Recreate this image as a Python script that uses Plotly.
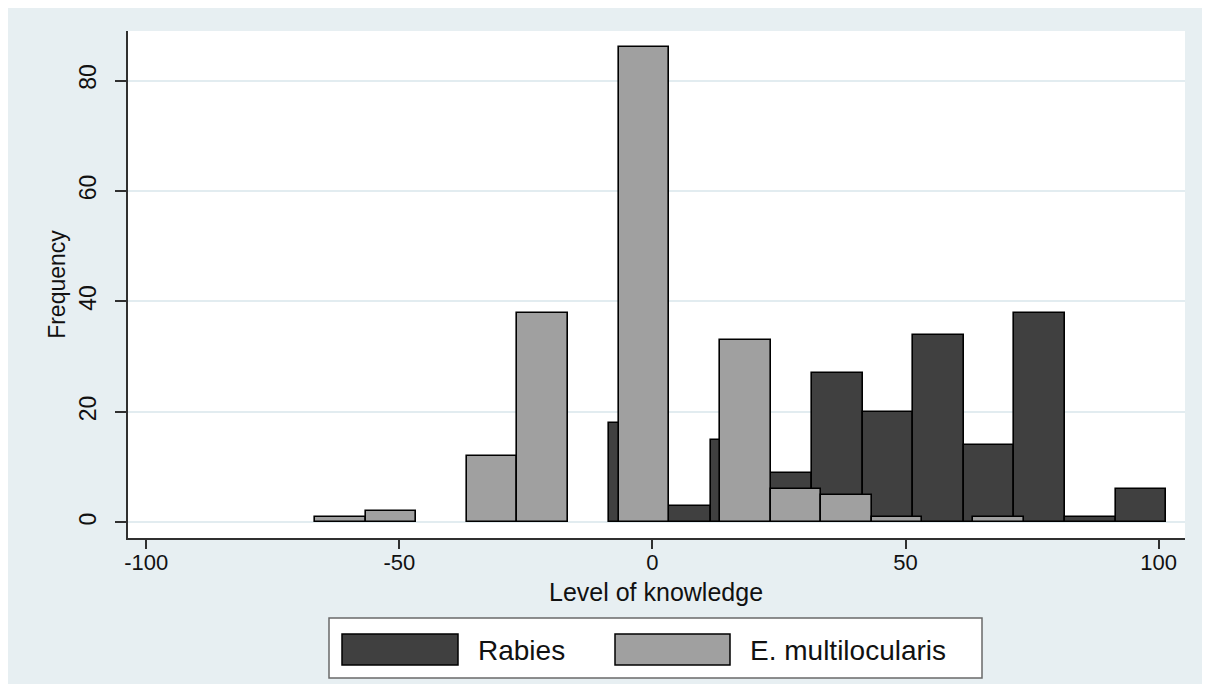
import plotly.graph_objects as go

# ---- data ----
bin_width = 10

rabies_left_edges = [-8.5, 1.5, 11.5, 21.5, 31.5, 41.5, 51.5, 61.5, 71.5, 81.5, 91.5]
rabies_counts = [18, 3, 15, 9, 27, 20, 34, 14, 38, 1, 6]

emulti_left_edges = [-66.67, -56.67, -36.67, -26.67, -6.67, 13.33, 23.33, 33.33, 43.33, 63.33]
emulti_counts = [1, 2, 12, 38, 86, 33, 6, 5, 1, 1]

x_ticks = [-100, -50, 0, 50, 100]
x_tick_labels = ["-100", "-50", "0", "50", "100"]
y_ticks = [0, 20, 40, 60, 80]

series_names = ["Rabies", "E. multilocularis"]
x_title = "Level of knowledge"
y_title = "Frequency"

# ---- style ----
DARK = "#404040"
LIGHT = "#a0a0a0"
BG = "#e7eff2"
GRID = "#e2ecf0"
AXIS = "#303030"
TXT = "#111111"
FONT = "Liberation Sans, Arial, sans-serif"

OFF = 8  # page body margin: figure starts 8 px in from the window edge
W, H = 1210, 684
L, T = 128 - OFF, 31 - OFF
R = W - (1185 - OFF)
B = H - (538 - OFF)
PW, PH = W - L - R, H - T - B


def px_x(sx):
    return (sx - OFF - L) / PW


def px_y(sy):
    return (H - B - (sy - OFF)) / PH


def centers(edges):
    return [e + bin_width / 2 for e in edges]


fig = go.Figure()
fig.add_trace(go.Bar(
    x=centers(rabies_left_edges), y=rabies_counts, width=bin_width,
    name=series_names[0],
    marker=dict(color=DARK, line=dict(color="#000000", width=1.6)),
    showlegend=False,
))
fig.add_trace(go.Bar(
    x=centers(emulti_left_edges), y=emulti_counts, width=bin_width,
    name=series_names[1],
    marker=dict(color=LIGHT, line=dict(color="#000000", width=1.6)),
    showlegend=False,
))

shapes = [
    # legend box
    dict(type="rect", xref="paper", yref="paper", x0=px_x(329), x1=px_x(982), y0=px_y(678), y1=px_y(618),
         fillcolor="white", line=dict(color="#6a6a6a", width=1.5)),
    # legend swatches
    dict(type="rect", xref="paper", yref="paper", x0=px_x(342), x1=px_x(458), y0=px_y(665), y1=px_y(634),
         fillcolor=DARK, line=dict(color="#000000", width=1.5)),
    dict(type="rect", xref="paper", yref="paper", x0=px_x(615), x1=px_x(730), y0=px_y(665), y1=px_y(634),
         fillcolor=LIGHT, line=dict(color="#000000", width=1.5)),
]

annotations = [
    dict(xref="paper", yref="paper", x=px_x(476), y=px_y(650), text=series_names[0],
         showarrow=False, xanchor="left", yanchor="middle", font=dict(size=28, color=TXT, family=FONT)),
    dict(xref="paper", yref="paper", x=px_x(748), y=px_y(650), text=series_names[1],
         showarrow=False, xanchor="left", yanchor="middle", font=dict(size=28, color=TXT, family=FONT)),
    # x-axis title
    dict(xref="paper", yref="paper", x=px_x(656), y=px_y(592), text=x_title,
         showarrow=False, xanchor="center", yanchor="middle", font=dict(size=25, color=TXT, family=FONT)),
]

fig.update_layout(
    width=W, height=H,
    margin=dict(l=L, r=R, t=T, b=B, autoexpand=False),
    paper_bgcolor=BG, plot_bgcolor="white",
    barmode="overlay", bargap=0,
    font=dict(family=FONT, color=TXT),
    shapes=shapes, annotations=annotations,
    showlegend=False,
    xaxis=dict(
        range=[-103.6, 105.2], tickmode="array", tickvals=x_ticks, ticktext=x_tick_labels,
        ticks="outside", ticklen=9, tickwidth=1.5, tickcolor=AXIS,
        showline=True, linecolor=AXIS, linewidth=1.5,
        showgrid=False, zeroline=False, automargin=False,
        tickfont=dict(size=22, family=FONT, color=TXT),
        ticklabelstandoff=-5,
    ),
    yaxis=dict(
        range=[-2.81, 88.96], tickmode="array", tickvals=y_ticks, tickangle=-90,
        ticks="outside", ticklen=11, tickwidth=1.5, tickcolor=AXIS,
        showline=True, linecolor=AXIS, linewidth=1.5,
        showgrid=True, gridcolor=GRID, gridwidth=1.5, zeroline=False, automargin=False,
        tickfont=dict(size=23, family=FONT, color=TXT),
        ticklabelstandoff=10,
        title=dict(text=y_title, font=dict(size=23, family=FONT, color=TXT), standoff=3),
    ),
)

fig.write_html("out.html")
